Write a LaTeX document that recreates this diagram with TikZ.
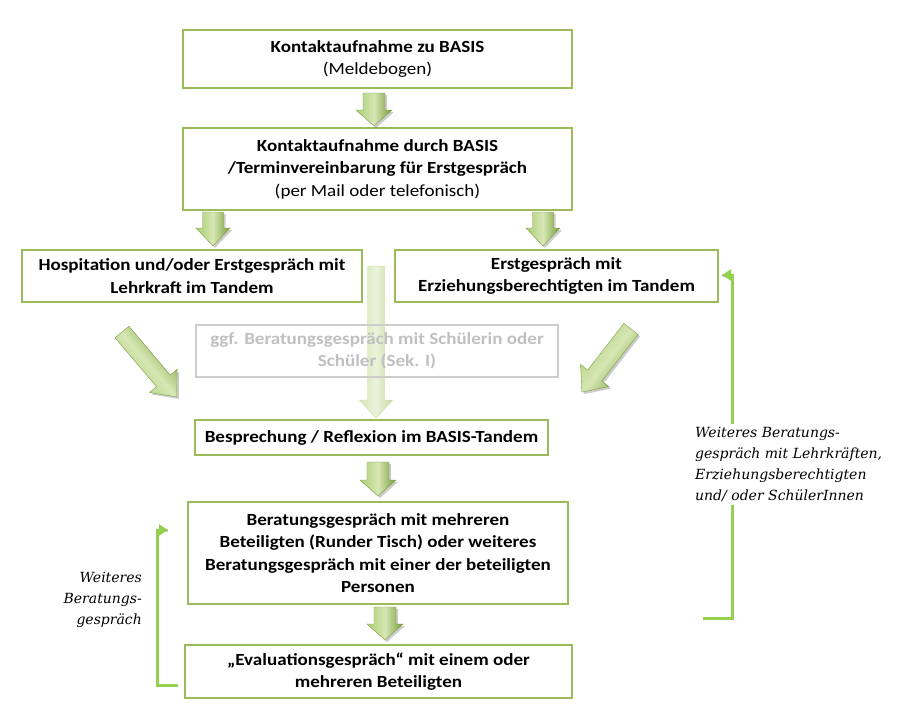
\documentclass[tikz,border=0pt]{standalone}
\usepackage{fontspec}
\setmainfont{Carlito}[FakeStretch=1.12]
\newfontfamily\notefont{DejaVu Serif}
\usetikzlibrary{arrows.meta,calc}

\definecolor{boxgreen}{RGB}{155,187,89}
\definecolor{linegreen}{RGB}{146,208,80}
\definecolor{arlight}{RGB}{214,231,180}
\definecolor{armid}{RGB}{172,205,115}
\definecolor{ardark}{RGB}{118,155,55}
\definecolor{aredge}{RGB}{125,160,65}
\definecolor{fadegray}{RGB}{192,192,192}
\definecolor{fadeline}{RGB}{205,205,205}

\tikzset{
  flowbox/.style={draw=boxgreen, line width=1.3pt, fill=white, align=center,
    font=\fontsize{17}{22.5}\selectfont, inner sep=0pt},
  fadebox/.style={flowbox, draw=fadeline, text=fadegray, fill=none},
  notetext/.style={font=\notefont\itshape\fontsize{14}{21}\selectfont, inner sep=3pt},
  fbline/.style={draw=linegreen, line width=3pt},
  fbshadow/.style={draw=black!35, line width=3pt, opacity=.6},
  fbtip/.style={-{Triangle[length=9pt,width=11pt]}},
  arrowfill/.style={left color=armid, right color=ardark, middle color=arlight, draw=aredge, line width=.4pt},
  fadearrow/.style={left color=armid!70!arlight, right color=armid!80!ardark, middle color=arlight!80, draw=armid, line width=.4pt, opacity=.6},
}

% #1 x, #2 y (tail centre), #3 angle, #4 length, #5 half shaft, #6 half head, #7 head length, #8 style
\newcommand\arrowpath[5]{(0,-#1) -- ({#2-#4},-#1) -- ({#2-#4},-#3) -- (#2,0) -- ({#2-#4},#3) -- ({#2-#4},#1) -- (0,#1) -- cycle}
\newcommand\garrow[8]{%
  \fill[black, opacity=.20, shift={(#1+2,#2+2)}, rotate=#3] \arrowpath{#5}{#4}{#6}{#7}{};
  \shade[shift={(#1,#2)}, rotate=#3, #8, shading angle={#3+180}] \arrowpath{#5}{#4}{#6}{#7}{};
}
\newcommand\farrow[8]{%
  \shade[shift={(#1,#2)}, rotate=#3, #8, shading angle={#3+180}] \arrowpath{#5}{#4}{#6}{#7}{};
}

\begin{document}
\begin{tikzpicture}[x=1pt, y=-1pt]
\useasboundingbox (0,0) rectangle (910,715);
\fill[white] (0,0) rectangle (910,715);

% faded middle arrow (behind)
\farrow{376}{266}{-90}{152}{8.5}{16.5}{18}{fadearrow}

% boxes
\node[flowbox, minimum width=389, minimum height=58] (b1) at (377.5,59)
  {\textbf{Kontaktaufnahme zu BASIS}\\(Meldebogen)};
\node[flowbox, minimum width=389, minimum height=82] (b2) at (377.5,169)
  {\textbf{Kontaktaufnahme durch BASIS}\\\textbf{/Terminvereinbarung für Erstgespräch}\\(per Mail oder telefonisch)};
\node[flowbox, minimum width=340, minimum height=52] (b3l) at (192,276)
  {\textbf{Hospitation und/oder Erstgespräch mit}\\\textbf{Lehrkraft im Tandem}};
\node[flowbox, minimum width=323, minimum height=52] (b3r) at (556.5,276)
  {\textbf{Erstgespräch mit}\\\textbf{Erziehungsberechtigten im Tandem}};
\node[fadebox, minimum width=362, minimum height=52] (bf) at (377,351)
  {\textbf{ggf. Beratungsgespräch mit Schülerin oder}\\\textbf{Schüler (Sek. I)}};
\node[flowbox, minimum width=353, minimum height=35] (b4) at (371.5,437.5)
  {\textbf{Besprechung / Reflexion im BASIS-Tandem}};
\node[flowbox, minimum width=380, minimum height=102] (b5) at (378,553)
  {\textbf{Beratungsgespräch mit mehreren}\\\textbf{Beteiligten (Runder Tisch) oder weiteres}\\\textbf{Beratungsgespräch mit einer der beteiligten}\\\textbf{Personen}};
\node[flowbox, minimum width=387, minimum height=53] (b6) at (378.5,671.5)
  {\textbf{„Evaluationsgespräch“ mit einem oder}\\\textbf{mehreren Beteiligten}};

% block arrows
\garrow{374}{93}{-90}{33}{11}{18}{16}{arrowfill}
\garrow{213}{212}{-90}{34}{10.5}{17}{18}{arrowfill}
\garrow{543}{212}{-90}{34}{10.5}{17}{18}{arrowfill}
\garrow{122}{332}{-49.8}{85}{9}{18}{21}{arrowfill}
\garrow{631}{329}{-127.9}{80}{9}{18}{21}{arrowfill}
\garrow{378}{462}{-90}{34}{11}{18}{16}{arrowfill}
\garrow{385}{607}{-90}{33}{11}{18}{16}{arrowfill}

% feedback loops
\coordinate (lA) at (178,685);
\coordinate (lB) at (168,530);
\coordinate (rA) at (703,618);
\coordinate (rB) at (722,275);
\draw[fbshadow, shift={(1.5,1.5)}] (lA) -- ++(-21,0) |- (lB);
\draw[fbline, fbtip] (lA) -- ++(-21,0) |- (lB);
\draw[fbshadow, shift={(1.5,1.5)}] (rA) -- ++(29,0) |- (rB);
\draw[fbline, fbtip] (rA) -- ++(29,0) |- (rB);

\node[notetext, fill=white, align=left, anchor=north west] (nr) at (692,424)
  {Weiteres Beratungs-\\gespräch mit Lehrkräften,\\Erziehungsberechtigten\\und/ oder SchülerInnen};
\node[notetext, align=right, anchor=north east] (nl) at (145,569)
  {Weiteres\\Beratungs-\\gespräch};
\end{tikzpicture}
\end{document}
